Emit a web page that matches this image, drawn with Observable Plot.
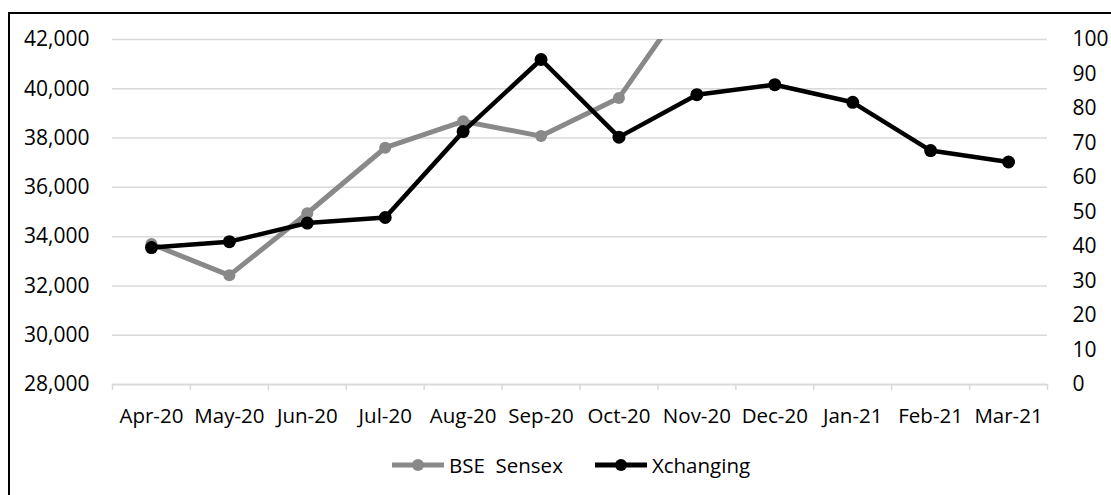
<!DOCTYPE html>
<html>
<head>
<meta charset="utf-8">
<script src="https://cdn.jsdelivr.net/npm/d3@7"></script>
<script src="https://cdn.jsdelivr.net/npm/@observablehq/plot@0.6"></script>
<style>
  html, body { margin: 0; padding: 0; background: #fff; overflow: hidden; }
  #wrap { position: relative; width: 1111px; height: 495px; overflow: hidden; font-family: "Open Sans", sans-serif; }
  #frame { position: absolute; left: 8px; top: 12px; width: 1103px; height: 483px; border-top: 2px solid #000; border-left: 2px solid #000; box-sizing: border-box; pointer-events: none; }
  #legend { position: absolute; top: 450px; left: 391px; height: 30px; display: flex; align-items: center; font-size: 20.5px; color: #000; white-space: pre; }
  #chart svg { display: block; }
</style>
</head>
<body>
<div id="wrap">
  <div id="chart"></div>
  <div id="frame"></div>
  <div id="legend"></div>
</div>
<script>
const months = ["Apr-20", "May-20", "Jun-20", "Jul-20", "Aug-20", "Sep-20", "Oct-20", "Nov-20", "Dec-20", "Jan-21", "Feb-21", "Mar-21"];
const sensex = [33700, 32430, 34950, 37608, 38680, 38080, 39630, 44150, 47751, 46286, 49100, 49509];
const xchanging = [39.7, 41.4, 46.8, 48.4, 73.3, 94.2, 71.7, 84.0, 86.9, 81.8, 67.8, 64.5];
const leftTicks = [28000, 30000, 32000, 34000, 36000, 38000, 40000, 42000];
const rightTicks = [0, 10, 20, 30, 40, 50, 60, 70, 80, 90, 100];
const seriesNames = ["BSE  Sensex", "Xchanging"];
const seriesColors = ["#898989", "#000000"];

// map right-axis values onto the left scale's domain
const toLeft = d3.scaleLinear([0, 100], [28000, 42000]);

const data = months.map((m, i) => ({ i, month: m, sensex: sensex[i], xch: toLeft(xchanging[i]) }));
const boundaries = d3.range(13).map(k => k - 0.5);

const chart = Plot.plot({
  width: 1111,
  height: 495,
  marginLeft: 112,
  marginRight: 64,
  marginTop: 39,
  marginBottom: 111,
  x: { type: "linear", domain: [-0.5, 11.5], axis: null, label: null },
  y: { domain: [28000, 42000], axis: null, label: null },
  style: { fontFamily: "Open Sans, sans-serif", fontSize: "20.5px", color: "#000", background: "transparent" },
  marks: [
    Plot.ruleY(leftTicks.slice(1), { stroke: "#d9d9d9", strokeWidth: 1.5 }),
    Plot.ruleY([28000], { stroke: "#d9d9d9", strokeWidth: 2 }),
    Plot.axisX(boundaries, { tickSize: 6, tickFormat: () => "", stroke: "#d9d9d9", strokeWidth: 1.5, label: null }),
    Plot.axisX(d3.range(12), { tickSize: 0, tickPadding: 24, tickFormat: i => months[i], fontSize: 20.5, label: null }),
    Plot.axisY(leftTicks, { anchor: "left", tickSize: 0, tickPadding: 23, tickFormat: d3.format(","), fontSize: 21, label: null }),
    Plot.axisY(rightTicks.map(toLeft), { anchor: "right", tickSize: 0, tickPadding: 25, tickFormat: d => String(Math.round(toLeft.invert(d))), fontSize: 21, label: null }),
    Plot.line(data, { x: "i", y: "sensex", stroke: seriesColors[0], strokeWidth: 5, clip: true }),
    Plot.dot(data, { x: "i", y: "sensex", r: 6, fill: seriesColors[0], clip: true }),
    Plot.line(data, { x: "i", y: "xch", stroke: seriesColors[1], strokeWidth: 4.5 }),
    Plot.dot(data, { x: "i", y: "xch", r: 6.5, fill: seriesColors[1] })
  ]
});
document.getElementById("chart").appendChild(chart);

// legend
const legend = document.getElementById("legend");
seriesNames.forEach((name, k) => {
  const item = document.createElement("span");
  item.style.display = "inline-flex";
  item.style.alignItems = "center";
  if (k > 0) item.style.marginLeft = "31px";
  const c = seriesColors[k];
  item.innerHTML = `<svg width="54" height="16" style="margin-right:4px;display:block"><line x1="1" x2="53" y1="8" y2="8" stroke="${c}" stroke-width="5"/><circle cx="27" cy="8" r="6" fill="${c}"/></svg><span>${name}</span>`;
  legend.appendChild(item);
});
</script>
</body>
</html>
